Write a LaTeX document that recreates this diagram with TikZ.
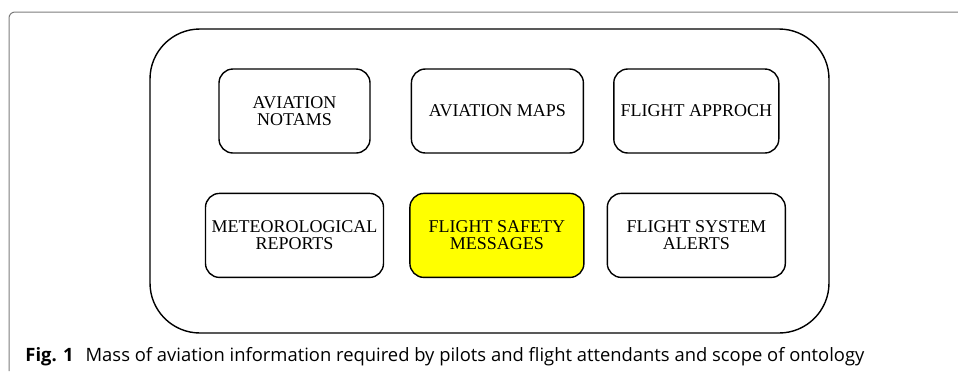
\documentclass[tikz,border=0pt]{standalone}
\usepackage{fontspec}
\usepackage{xcolor}
\usetikzlibrary{positioning,shapes}
\newfontfamily\boxfont{Liberation Serif}
\newfontfamily\capfont{Open Sans}
\definecolor{framegray}{RGB}{125,125,125}
\definecolor{safetyyellow}{RGB}{255,255,0}

\begin{document}
\begin{tikzpicture}[x=0.5pt,y=-0.5pt,node distance=20pt]
	\tikzstyle{item}
	  =[draw, line width=0.7pt, fill=white, rectangle, rounded corners=7pt,
	  minimum height=42pt, inner sep=0pt, align=center,
	  font=\boxfont\fontsize{9}{8.6}\selectfont]
	\useasboundingbox (0,0) rectangle (958,371);

	% page frame and outer scope
	\draw[framegray, line width=0.5pt, rounded corners=3pt]
	  (958,12) -- (9,12) -- (9,371);
	\draw[line width=0.7pt, rounded corners=25pt]
	  (150,29) rectangle (829,333);

	\node[item, minimum width=75.5pt] (notams)
	  at (294.5,111) {AVIATION\\NOTAMS};
	\node[item, minimum width=86pt] (maps)
	  [right=20pt of notams] {AVIATION MAPS};
	\node[item, minimum width=82.5pt] (approach)
	  [right=14.5pt of maps] {FLIGHT APPROCH};

	\node[item, minimum width=89pt] (meteo)
	  [below=19.5pt of notams] {METEOROLOGICAL\\REPORTS};
	\node[item, minimum width=87pt, fill=safetyyellow] (safety)
	  [right=12.5pt of meteo] {FLIGHT SAFETY\\MESSAGES};
	\node[item, minimum width=89pt] (alerts)
	  [right=11pt of safety] {FLIGHT SYSTEM\\ALERTS};

	\node[anchor=base west, inner sep=0pt,
	  font=\capfont\fontsize{9.2}{10}\selectfont] (caption)
	  at (25,361) {\textbf{Fig. 1}\hspace{6pt}Mass of aviation information required by pilots and flight attendants and scope of ontology};
\end{tikzpicture}
\end{document}
